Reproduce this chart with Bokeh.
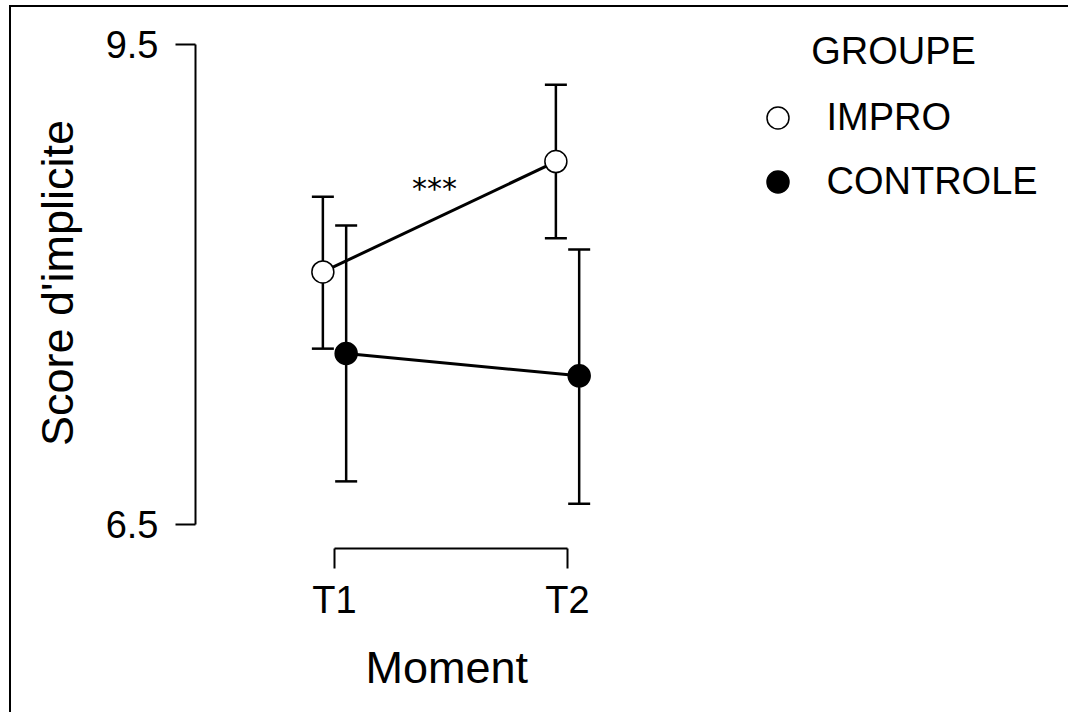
from bokeh.plotting import figure
from bokeh.models import (ColumnDataSource, Whisker, TeeHead, FixedTicker, Legend,
                          LegendItem, Label, Range1d, Title)
from bokeh.embed import file_html
from bokeh.resources import INLINE

# ---- data ----
moments = [1, 2]
moment_labels = ["T1", "T2"]
groups = ["IMPRO", "CONTROLE"]
impro_mean = [8.08, 8.77]
impro_lower = [7.60, 8.29]
impro_upper = [8.55, 9.25]
controle_mean = [7.57, 7.43]
controle_lower = [6.77, 6.63]
controle_upper = [8.37, 8.22]
y_ticks = [6.5, 9.5]
y_tick_labels = ["6.5", "9.5"]
dodge_width = 0.05
signif_text = "***"
signif_pos = (1.429, 8.604)
legend_title = "GROUPE"
legend_title_pos = (3.399, 9.462)

FONT = "Liberation Sans"

p = figure(width=1068, height=712, output_backend="svg", toolbar_location=None,
           x_range=Range1d(0.4034, 4.150), y_range=Range1d(6.3502, 9.671),
           min_border_left=195, min_border_right=0, min_border_top=17,
           min_border_bottom=163)
p.grid.visible = False
p.outline_line_color = None
p.border_fill_color = None
p.background_fill_color = "white"
p.styles = {"box-shadow": ("inset 0 5px 0 0 white, inset 9px 0 0 0 white, "
                           "inset 0 7px 0 0 black, inset 11px 0 0 0 black")}

def src(mean, lower, upper, off):
    return ColumnDataSource(dict(x=[m + off for m in moments], y=mean,
                                 lower=lower, upper=upper))

s_imp = src(impro_mean, impro_lower, impro_upper, -dodge_width)
s_con = src(controle_mean, controle_lower, controle_upper, dodge_width)

for s in (s_imp, s_con):
    w = Whisker(source=s, base="x", upper="upper", lower="lower",
                line_color="black", line_width=2.5, level="underlay",
                upper_head=TeeHead(size=22, line_width=2.5, line_color="black"),
                lower_head=TeeHead(size=22, line_width=2.5, line_color="black"))
    p.add_layout(w)

p.line("x", "y", source=s_imp, line_color="black", line_width=3)
p.line("x", "y", source=s_con, line_color="black", line_width=3)
r_imp = p.scatter("x", "y", source=s_imp, size=22, marker="circle",
                  fill_color="white", line_color="black", line_width=1.5)
r_con = p.scatter("x", "y", source=s_con, size=22, marker="circle",
                  fill_color="black", line_color="black", line_width=1.5)

# axes
ya = p.yaxis[0]
ya.bounds = (y_ticks[0], y_ticks[-1])
ya.ticker = FixedTicker(ticks=y_ticks)
ya.major_label_overrides = dict(zip(y_ticks, y_tick_labels))
xa = p.xaxis[0]
xa.bounds = (moments[0], moments[-1])
xa.ticker = FixedTicker(ticks=moments)
xa.major_label_overrides = dict(zip(moments, moment_labels))
for a in (xa, ya):
    a.minor_tick_line_color = None
    a.major_tick_in = 0
    a.major_tick_out = 20
    a.axis_line_width = 2
    a.major_tick_line_width = 2
    a.axis_line_color = "black"
    a.major_tick_line_color = "black"
    a.major_label_text_font = FONT
    a.major_label_text_font_size = "38px"
    a.major_label_text_color = "black"
    a.axis_label_text_font = FONT
    a.axis_label_text_font_size = "45px"
    a.axis_label_text_font_style = "normal"
    a.axis_label_text_color = "black"
ya.axis_label = "Score d'implicite"
ya.major_label_standoff = 17
xa.major_label_standoff = 10
ya.axis_label_standoff = 20

# x axis title, placed under the bracket axis
p.add_layout(Title(text="Moment", align="left", offset=170, vertical_align="top",
                   standoff=36, text_font=FONT, text_font_size="45px",
                   text_font_style="normal", text_color="black"), "below")

legend = Legend(items=[LegendItem(label=groups[0], renderers=[r_imp]),
                       LegendItem(label=groups[1], renderers=[r_con])],
                location=(554.5, 339.2), glyph_width=55, glyph_height=55,
                label_standoff=22, spacing=9, padding=0, margin=0,
                border_line_color=None, background_fill_alpha=0,
                label_text_font=FONT, label_text_font_size="38px",
                label_text_color="black")
p.add_layout(legend)

p.add_layout(Label(x=legend_title_pos[0], y=legend_title_pos[1], text=legend_title,
                   text_font=FONT, text_font_size="38px",
                   text_align="center", text_baseline="middle",
                   text_color="black"))
p.add_layout(Label(x=signif_pos[0], y=signif_pos[1], text=signif_text,
                   text_font="DejaVu Sans", text_font_size="30px",
                   text_align="center", text_baseline="alphabetic",
                   text_color="black"))

open("out.html", "w").write(file_html(p, INLINE))
